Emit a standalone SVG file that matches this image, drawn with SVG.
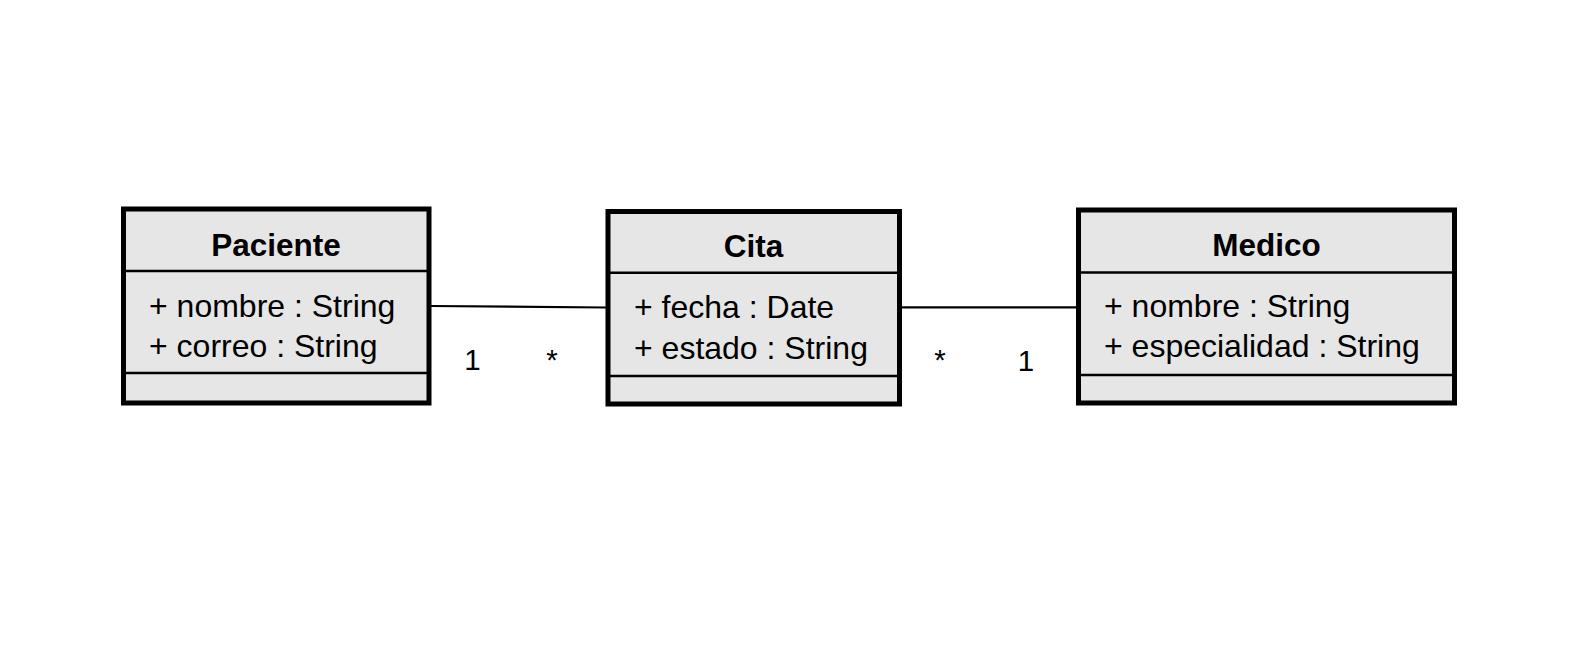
<svg xmlns="http://www.w3.org/2000/svg" width="1596" height="665" viewBox="0 0 1596 665">
<style>
.box{fill:#e6e6e6;stroke:#000;stroke-width:5}
.sep{stroke:#000;stroke-width:2.5}
.title{font-family:"Liberation Sans",Arial,sans-serif;font-weight:bold;font-size:31.5px;text-anchor:middle;fill:#000}
.attr{font-family:"Liberation Sans",Arial,sans-serif;font-size:32px;fill:#000}
.mult{font-family:"Liberation Sans",Arial,sans-serif;font-size:29.5px;fill:#000;text-anchor:middle}
.conn{stroke:#000;stroke-width:2.2;fill:none}
</style>
<rect width="1596" height="665" fill="#ffffff"/>
<g id="connectors">
<line class="conn" x1="431" y1="306" x2="606" y2="307.5"/>
<line class="conn" x1="902" y1="307.3" x2="1077" y2="307.3"/>
<text class="mult" x="472.5" y="370">1</text>
<text class="mult" x="552" y="370">*</text>
<text class="mult" x="940" y="370">*</text>
<text class="mult" x="1026" y="371">1</text>
</g>
<g id="paciente">
<rect class="box" x="123.5" y="209" width="305.5" height="194"/>
<line class="sep" x1="123.5" y1="271" x2="429" y2="271"/>
<line class="sep" x1="123.5" y1="373" x2="429" y2="373"/>
<text class="title" x="276" y="256">Paciente</text>
<text class="attr" x="149" y="317">+ nombre : String</text>
<text class="attr" x="149" y="357">+ correo : String</text>
</g>
<g id="cita">
<rect class="box" x="608" y="211.5" width="291.5" height="192.5"/>
<line class="sep" x1="608" y1="272.7" x2="899.5" y2="272.7"/>
<line class="sep" x1="608" y1="376" x2="899.5" y2="376"/>
<text class="title" x="753.5" y="256.7">Cita</text>
<text class="attr" x="634" y="318">+ fecha : Date</text>
<text class="attr" x="634" y="358.5">+ estado : String</text>
</g>
<g id="medico">
<rect class="box" x="1078.5" y="210" width="376" height="193"/>
<line class="sep" x1="1078.5" y1="272.5" x2="1454.5" y2="272.5"/>
<line class="sep" x1="1078.5" y1="375" x2="1454.5" y2="375"/>
<text class="title" x="1266.5" y="256">Medico</text>
<text class="attr" x="1104" y="317">+ nombre : String</text>
<text class="attr" x="1104" y="357">+ especialidad : String</text>
</g>
</svg>
